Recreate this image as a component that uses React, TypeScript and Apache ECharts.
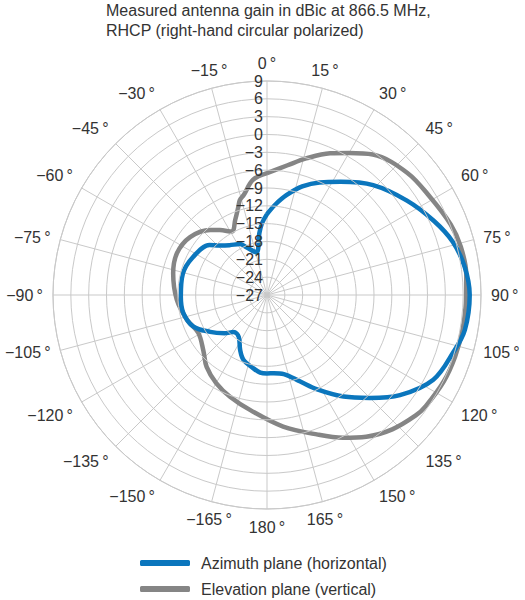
import React, { useEffect, useRef } from "react";
import * as echarts from "echarts";

const titleText = "Measured antenna gain in dBic at 866.5 MHz,\nRHCP (right-hand circular polarized)";
const seriesNames = ["Azimuth plane (horizontal)", "Elevation plane (vertical)"];

// angle (deg, clockwise from top, 0..360) and gain (dBic)
const azimuthAngles = [0, 5, 11, 18, 25, 33, 44, 56, 66, 74, 82, 90, 100, 107, 117, 127, 135, 143, 152, 159, 168, 175, 180, 185, 191, 200, 206, 214, 222, 228, 237, 247, 258, 269, 284, 297, 311, 316, 323, 332, 336, 346, 353, 356, 360];
const azimuthGain = [-13.4, -11.8, -9.9, -7.8, -6.1, -4.3, -1.3, 1.4, 3.7, 5.5, 6.6, 7.1, 6.8, 5.8, 4.4, 1.0, -2.5, -5.6, -9.0, -11.4, -13.4, -13.8, -13.8, -13.9, -14.5, -15.4, -16.7, -18.5, -18.6, -17.4, -15.6, -13.5, -12.6, -12.5, -12.4, -13.0, -14.2, -15.4, -16.5, -17.3, -18.1, -19.6, -16.5, -14.9, -13.4];

const elevationAngles = [0, 9, 16, 24, 30, 37, 49, 59, 69, 76, 84, 90, 100, 108, 116, 125, 129, 137, 145, 152, 160, 173, 188, 200, 210, 220, 229, 241, 253, 267, 283, 295, 307, 319, 324, 331, 337, 342, 344, 347, 353, 360];
const elevationGain = [-6.5, -4.9, -3.1, -0.9, 0.6, 2.6, 4.3, 5.0, 6.1, 6.6, 6.7, 6.5, 6.4, 6.3, 6.1, 5.6, 5.2, 3.9, 2.1, 0.2, -2.0, -4.7, -7.4, -8.8, -9.9, -11.2, -12.8, -13.8, -12.9, -11.8, -10.8, -10.3, -10.8, -12.5, -13.5, -14.8, -13.3, -11.4, -10.4, -9.7, -7.5, -6.5];

const radiusMin = -27;
const radiusMax = 9;
const radiusStep = 3;
const angleStep = 15;

const colors = ["#0b76bd", "#858585"];
const gridColor = "#c9c9c9";
const textColor = "#333333";
const fontFamily = "Liberation Sans, Arial, sans-serif";

const minus = (v: number) => (v < 0 ? "\u2212" + Math.abs(v) : String(v));

export default function App() {
  const ref = useRef<HTMLDivElement>(null);
  useEffect(() => {
    if (!ref.current) return;
    const chart = echarts.init(ref.current, undefined, { renderer: "svg" });
    const az = azimuthAngles.map((a, i) => [azimuthGain[i], a]);
    const el = elevationAngles.map((a, i) => [elevationGain[i], a]);
    const legendBase = {
      orient: "horizontal",
      left: 140,
      itemWidth: 50,
      itemHeight: 6,
      icon: "roundRect",
      padding: 0,
      textStyle: { fontFamily, fontSize: 16, color: textColor, padding: [0, 0, 0, 6] },
    };
    chart.setOption({
      animation: false,
      backgroundColor: "#ffffff",
      title: {
        text: titleText,
        left: 106,
        top: 0,
        padding: 0,
        textStyle: {
          fontFamily,
          fontSize: 16,
          fontWeight: "normal",
          color: textColor,
          lineHeight: 20,
        },
      },
      legend: [
        { ...legendBase, top: 555, data: [seriesNames[0]] },
        { ...legendBase, top: 581, data: [seriesNames[1]] },
      ],
      polar: { center: [267, 295], radius: 214 },
      angleAxis: {
        type: "value",
        min: 0,
        max: 360,
        interval: angleStep,
        startAngle: 90,
        clockwise: true,
        axisLine: { show: true, lineStyle: { color: gridColor, width: 1 } },
        axisTick: { show: false },
        splitLine: { show: true, lineStyle: { color: gridColor, width: 1 } },
        axisLabel: {
          margin: 10,
          fontFamily,
          fontSize: 16,
          color: textColor,
          formatter: (v: number) => {
            if (v === 360) return "";
            const d = v > 180 ? v - 360 : v;
            return minus(d) + "\u2009°";
          },
        },
      },
      radiusAxis: {
        type: "value",
        min: radiusMin,
        max: radiusMax,
        interval: radiusStep,
        axisLine: { show: false },
        axisTick: { show: false },
        splitLine: { show: true, lineStyle: { color: gridColor, width: 1 } },
        axisLabel: {
          fontFamily,
          fontSize: 16,
          color: textColor,
          margin: 4,
          formatter: (v: number) => minus(v),
        },
        z: 10,
      },
      series: [
        {
          name: seriesNames[1],
          type: "line",
          coordinateSystem: "polar",
          data: el,
          smooth: 0.35,
          symbol: "none",
          lineStyle: { color: colors[1], width: 4.5 },
          itemStyle: { color: colors[1] },
        },
        {
          name: seriesNames[0],
          type: "line",
          coordinateSystem: "polar",
          data: az,
          smooth: 0.35,
          symbol: "none",
          lineStyle: { color: colors[0], width: 4.5 },
          itemStyle: { color: colors[0] },
        },
      ],
    });
    return () => chart.dispose();
  }, []);
  return (
    <div
      ref={ref}
      style={{ position: "fixed", left: 0, top: 0, width: 525, height: 600, background: "#fff" }}
    />
  );
}
